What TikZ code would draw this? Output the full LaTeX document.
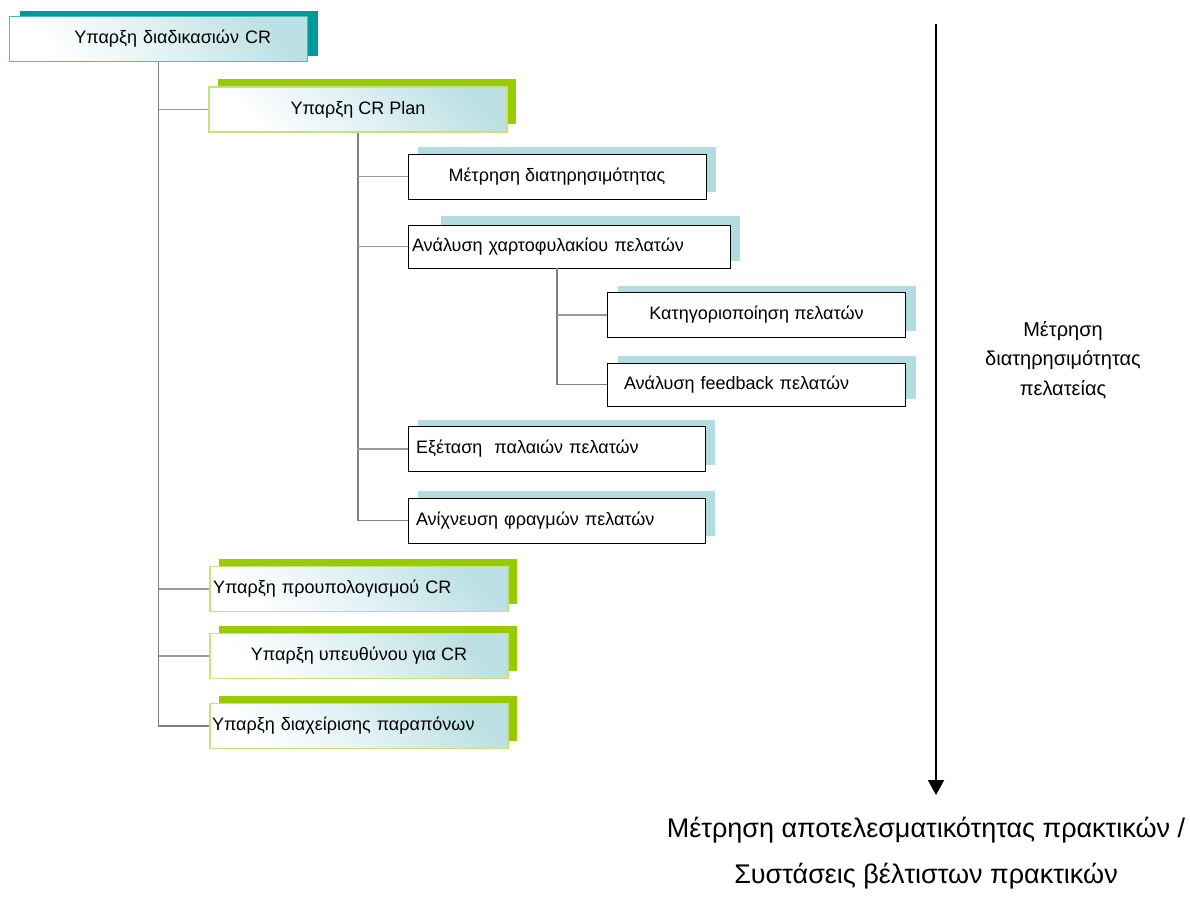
\documentclass[tikz,border=0pt]{standalone}
\usepackage{fontspec}
\setmainfont{Liberation Sans}
\usepackage{xcolor}
\usetikzlibrary{arrows.meta,shadows,backgrounds}
\definecolor{crteal}{HTML}{009999}
\definecolor{crtealline}{HTML}{4DBDBD}
\definecolor{crgreen}{HTML}{99CC00}
\definecolor{crgreenline}{HTML}{C8E27A}
\definecolor{crblue}{HTML}{B3DCE0}
\definecolor{crtint}{HTML}{BCE0E4}
\tikzset{
  crbox/.style={rectangle, minimum width=298pt, minimum height=45pt, inner sep=4pt, font=\fontsize{18}{21}\selectfont},
  tinted/.style={top color=crtint, bottom color=white, middle color=white!55!crtint, shading angle=-45},
  topbox/.style={crbox, draw=crtealline, line width=1.5pt, tinted, general shadow={fill=crteal, shadow xshift=10pt, shadow yshift=6pt}},
  greenbox/.style={crbox, draw=crgreenline, line width=1.5pt, tinted, general shadow={fill=crgreen, shadow xshift=9pt, shadow yshift=8pt}},
  leafbox/.style={crbox, draw=black, line width=0.9pt, fill=white},
  subbox/.style={leafbox, general shadow={fill=crblue, shadow xshift=10pt, shadow yshift=7pt}},
  trunk/.style={draw=black!50, line width=1.6pt},
  branch/.style={draw=black!40, line width=1.2pt},
  sidetext/.style={align=center, font=\fontsize{20}{29.5}\selectfont}
}
\begin{document}
\begin{tikzpicture}[x=1pt,y=-1pt]
\useasboundingbox (0,0) rectangle (1190,913);
% top level
\node[topbox, align=right, inner xsep=36pt, text width=225pt] (b1) at (158.5,39) {Υπαρξη διαδικασιών CR};
\node[greenbox] (b2) at (358,109.5) {Υπαρξη CR Plan};
% CR plan parts
\node[subbox] (b3) at (557,176.5) {Μέτρηση διατηρησιμότητας};
\node[leafbox, minimum width=322pt, minimum height=43pt, align=left, text width=314pt] (b4) at (569,246.5) {Ανάλυση χαρτοφυλακίου πελατών};
\node[subbox] (b5) at (756.5,315) {Κατηγοριοποίηση πελατών};
\node[subbox, minimum height=43pt, align=left, inner xsep=16pt, text width=265pt] (b6) at (756.5,384.5) {Ανάλυση feedback πελατών};
\node[subbox, minimum width=297pt, align=left, inner xsep=8pt, text width=281pt] (b7) at (556.5,449) {Εξέταση\ \ παλαιών πελατών};
\node[subbox, minimum width=297pt, align=left, inner xsep=8pt, text width=281pt] (b8) at (556.5,520.5) {Ανίχνευση φραγμών πελατών};
% rest of top level
\node[greenbox, align=left, inner xsep=3pt, text width=292pt] (b9) at (359,589) {Υπαρξη προυπολογισμού CR};
\node[greenbox] (b10) at (359,656) {Υπαρξη υπευθύνου για CR};
\node[greenbox, align=left, inner xsep=2pt, text width=294pt] (b11) at (359,726) {Υπαρξη διαχείρισης παραπόνων};
\begin{scope}[on background layer]
  \fill[crblue] ([shift={(33pt,7pt)}]b4.south west) rectangle ([shift={(10pt,9pt)}]b4.north east);
\end{scope}
% tree lines
\draw[trunk] (b1.south) |- (b11.west);
\foreach \b in {b2,b9,b10}{\draw[branch] (b1.south |- \b.west) -- (\b.west);}
\draw[trunk] (b2.south) |- (b8.west);
\foreach \b in {b3,b4,b7}{\draw[branch] (b2.south |- \b.west) -- (\b.west);}
\coordinate (t3) at ([xshift=-12pt]b4.south);
\draw[trunk] (t3) |- (b6.west);
\draw[branch] (t3 |- b5.west) -- (b5.west);
% measuring axis
\coordinate (axtop) at (936,24);
\coordinate (axend) at (936,795);
\draw[line width=2pt, -{Triangle[width=16pt,length=15pt]}] (axtop) -- (axend);
\node[sidetext] (side) at (1063,360) {Μέτρηση\\διατηρησιμότητας\\πελατείας};
\node[align=center, font=\fontsize{27}{46}\selectfont] (bottom) at (926,853) {Μέτρηση αποτελεσματικότητας πρακτικών /\\Συστάσεις βέλτιστων πρακτικών};
\end{tikzpicture}
\end{document}
